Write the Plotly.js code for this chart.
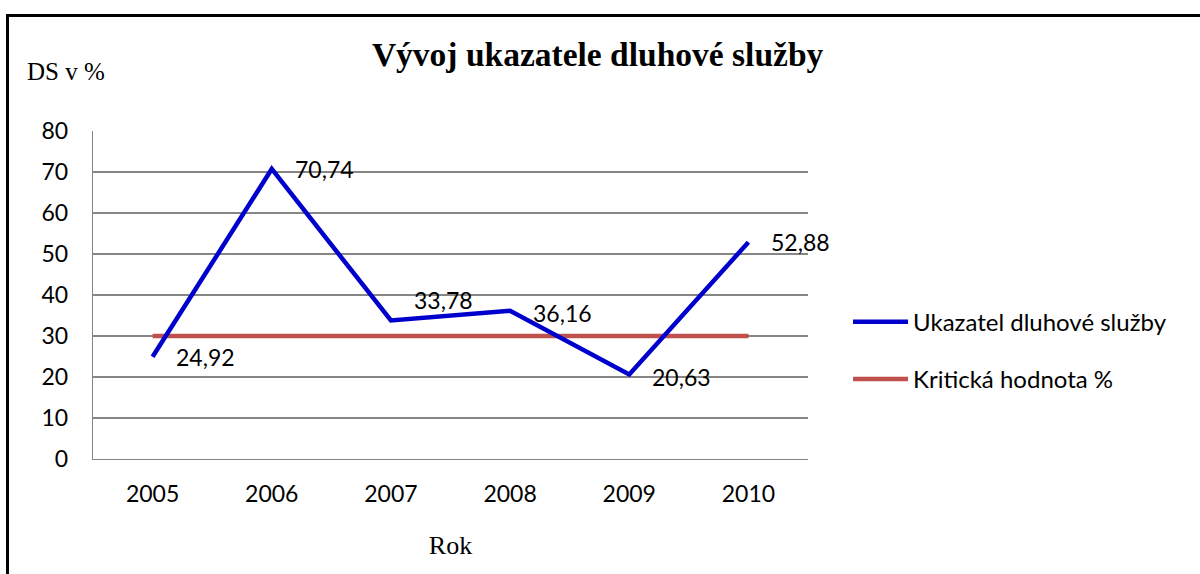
<!DOCTYPE html>
<html><head><meta charset="utf-8">
<script src="https://cdn.plot.ly/plotly-3.0.1.min.js"></script>
<style>
html,body{margin:0;padding:0;background:#fff;overflow:hidden}
#chart{width:1200px;height:574px}
#frame{position:absolute;left:6px;top:14px;width:1300px;height:700px;border-left:3px solid #000;border-top:3px solid #000;pointer-events:none}
</style></head><body>
<div id="chart"></div><div id="frame"></div>
<script>
// ---- data ----
const years = ['2005','2006','2007','2008','2009','2010'];
const dsValues = [24.92, 70.74, 33.78, 36.16, 20.63, 52.88];
const criticalValues = [30, 30, 30, 30, 30, 30];
const yTicks = [0, 10, 20, 30, 40, 50, 60, 70, 80];
const seriesNames = ['Ukazatel dluhové služby', 'Kritická hodnota %'];
const chartTitle = 'Vývoj ukazatele dluhové služby';
const yTitle = 'DS v %';
const xTitle = 'Rok';

// ---- style ----
const labelYShift = [0, 0, 21, -2, -3, 0];
const SANS = 'Lato, "Open Sans", sans-serif';
const SERIF = '"Liberation Serif", "Times New Roman", serif';

const fmt = v => v.toFixed(2).replace('.', ',');

const traces = [
  {
    x: years, y: criticalValues, name: seriesNames[1], type: 'scatter', mode: 'lines',
    line: {color: '#C0504D', width: 4.5}, legendrank: 2, legendgroup: 'b', hoverinfo: 'skip'
  },
  {
    x: years, y: dsValues, name: seriesNames[0], type: 'scatter', mode: 'lines',
    line: {color: '#0000CC', width: 4.5}, legendrank: 1, legendgroup: 'a', hoverinfo: 'skip'
  }
];

// category axis: annotation x is the category index
const annotations = years.map((yr, i) => ({
  x: i, y: dsValues[i], xref: 'x', yref: 'y', text: fmt(dsValues[i]),
  showarrow: false, xanchor: 'left', yanchor: 'middle', xshift: 21, yshift: labelYShift[i],
  font: {family: SANS, size: 23, color: '#000'}
}));
annotations.push({
  text: yTitle, xref: 'paper', yref: 'paper', x: -0.095, y: 1.18,
  xanchor: 'left', yanchor: 'middle', showarrow: false,
  font: {family: SERIF, size: 25, color: '#000'}
});

const layout = {
  width: 1200, height: 574,
  margin: {l: 93, r: 392, t: 131, b: 115, pad: 0},
  paper_bgcolor: '#fff', plot_bgcolor: '#fff',
  title: {
    text: '<b>' + chartTitle + '</b>', x: 0.498, xref: 'container', xanchor: 'center',
    y: 0.905, yref: 'container', yanchor: 'middle',
    font: {family: SERIF, size: 33.5, color: '#000'}
  },
  xaxis: {
    type: 'category', range: [-0.5, 5.5], showgrid: false, zeroline: false,
    showline: true, linecolor: '#868686', linewidth: 1.3, ticks: '',
    ticklabelstandoff: 14,
    tickfont: {family: SANS, size: 23, color: '#000'},
    title: {text: xTitle, standoff: 30, font: {family: SERIF, size: 26, color: '#000'}},
    fixedrange: true
  },
  yaxis: {
    range: [0, 80], tickvals: yTicks, ticktext: yTicks.map(String),
    showgrid: true, gridcolor: '#868686', gridwidth: 1.3, zeroline: false,
    showline: true, linecolor: '#868686', linewidth: 1.3, ticks: '',
    ticklabelstandoff: 19,
    tickfont: {family: SANS, size: 23, color: '#000'},
    fixedrange: true
  },
  showlegend: true,
  legend: {
    x: 1.056, xanchor: 'left', y: 0.33, yanchor: 'middle',
    font: {family: SANS, size: 24, color: '#000'},
    itemwidth: 55, tracegroupgap: 23, bgcolor: 'rgba(0,0,0,0)'
  },
  annotations: annotations
};

Plotly.newPlot('chart', traces, layout, {displayModeBar: false, staticPlot: true});
</script>
</body></html>
